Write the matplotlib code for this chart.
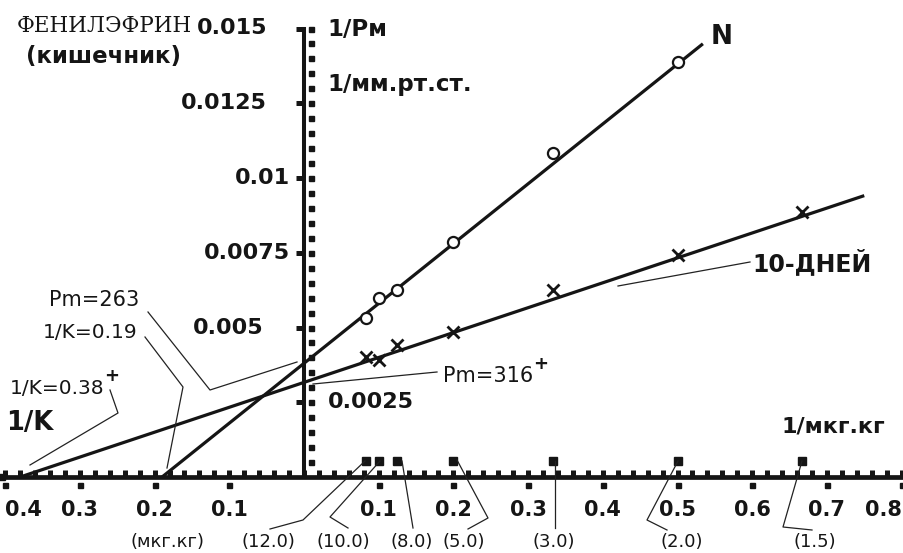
import numpy as np
import matplotlib
matplotlib.use("Agg")
import matplotlib.pyplot as plt
from matplotlib.lines import Line2D
from matplotlib.transforms import offset_copy

# ---------------- data ----------------
doses = [12.0, 10.0, 8.0, 5.0, 3.0, 2.0, 1.5]          # мкг.кг
dose_labels = ["(12.0)", "(10.0)", "(8.0)", "(5.0)", "(3.0)", "(2.0)", "(1.5)"]
n_recip_pm = [0.00532, 0.00599, 0.00625, 0.00786, 0.01084, 0.01388]       # N, first 6 doses
d10_recip_pm = [0.00401, 0.00391, 0.00441, 0.00485, 0.00625, 0.00742, 0.00886]  # 10 days
pm_values = {"N": 263, "10d": 316}
inv_k_values = {"N": 0.19, "10d": 0.38}
line_x_end = {"N": 0.534, "10d": 0.750}
x_ticks = [-0.4, -0.3, -0.2, -0.1, 0.1, 0.2, 0.3, 0.4, 0.5, 0.6, 0.7, 0.8]
x_tick_labels = ["0.4", "0.3", "0.2", "0.1", "0.1", "0.2", "0.3", "0.4", "0.5", "0.6", "0.7", "0.8"]
y_ticks = [0.0025, 0.005, 0.0075, 0.01, 0.0125, 0.015]
y_tick_labels = ["0.0025", "0.005", "0.0075", "0.01", "0.0125", "0.015"]

# ---------------- figure ----------------
W, H = 904, 553
fig = plt.figure(figsize=(W / 100, H / 100), dpi=100)
ax = fig.add_axes([0, 0, 1, 1])
X0PX, Y0PX, XSC, YSC = 304, 477, 747.0, 74.75 / 0.0025
ax.set_xlim(-X0PX / XSC, (W - X0PX) / XSC)
ax.set_ylim(-(H - Y0PX) / YSC, Y0PX / YSC)
ax.set_facecolor("white")
ink = "#151515"

for s in ["top", "right"]:
    ax.spines[s].set_visible(False)
ax.spines["left"].set_position(("data", 0))
ax.spines["bottom"].set_position(("data", 0))
ax.spines["left"].set_bounds(0, 0.015)
ax.spines["bottom"].set_bounds(-0.404, 0.8)
ax.spines["left"].set_linewidth(2.9)
ax.spines["bottom"].set_linewidth(3.4)
ax.spines["left"].set_color(ink)
ax.spines["bottom"].set_color(ink)

# x minor ticks (squares above the axis)
ax.set_xticks(np.round(np.arange(-0.4, 0.8001, 0.02), 3), minor=True)
ax.set_xticks([])
ax.tick_params(axis="x", which="minor", direction="in", length=5, width=3.6, color=ink)
# y major ticks on the left
ax.set_yticks(y_ticks)
ax.set_yticklabels([])
ax.tick_params(axis="y", which="major", direction="out", length=6, width=3.6, color=ink)

# y minor squares right of axis (with a gap)
y_minor = np.round(np.arange(0.0005, 0.01501, 0.0005), 5)
tr_r = offset_copy(ax.transData, fig=fig, x=7, y=0, units="dots")
ax.plot(np.zeros_like(y_minor), y_minor, "s", ms=3.6, color=ink, transform=tr_r, clip_on=False)
# x major squares below axis
tr_d = offset_copy(ax.transData, fig=fig, x=0, y=-8, units="dots")
ax.plot(x_ticks, np.zeros(len(x_ticks)), "s", ms=3.6, color=ink, transform=tr_d, clip_on=False)
# left end cap of the x axis
ax.plot([x_ticks[0] - 0.004], [0], "s", ms=5, color=ink, clip_on=False)
# dose squares above the axis
dose_x = [1.0 / d for d in doses]
tr_u = offset_copy(ax.transData, fig=fig, x=0, y=16, units="dots")
ax.plot(dose_x, np.zeros(len(dose_x)), "s", ms=5.5, color=ink, transform=tr_u, clip_on=False)

# x tick labels
for xv, lab in zip(x_ticks, x_tick_labels):
    ha = "center"
    if xv == x_ticks[0]:
        ha = "left"
    elif xv == x_ticks[-1]:
        ha = "right"
    ax.annotate(lab, xy=(xv, 0), xytext=(0, -33), textcoords="offset pixels",
                ha=ha, va="center", fontsize=15, fontweight="bold", color=ink)

# y tick labels (irregular placement as in the original)
y_lab_dx = {"0.0025": (24, "left"), "0.005": (-41, "right"), "0.0075": (-14, "right"),
            "0.01": (-14, "right"), "0.0125": (-37, "right"), "0.015": (-37, "right")}
for yv, lab in zip(y_ticks, y_tick_labels):
    dx, ha = y_lab_dx[lab]
    ax.annotate(lab, xy=(0, yv), xytext=(dx, 0), textcoords="offset pixels",
                ha=ha, va="center", fontsize=16, fontweight="bold", color=ink)

# regression lines (Lineweaver-Burk type): 1/P = 1/Pm * (1 + x / (1/K))
for key in ["N", "10d"]:
    xs = np.array([-inv_k_values[key], line_x_end[key]])
    ys = (1.0 / pm_values[key]) * (1 + xs / inv_k_values[key])
    ax.plot(xs, ys, "-", color=ink, lw=2.3, solid_capstyle="butt", zorder=3)

# data points
ax.plot(dose_x[:len(n_recip_pm)], n_recip_pm, "o", ms=8, mfc="white", mec=ink, mew=1.6, zorder=4)
ax.plot(dose_x, d10_recip_pm, "x", ms=9, color=ink, mew=2.0, zorder=4)


# ---------------- annotations (figure pixel coordinates) ----------------
def P(x, y):
    return (x / W, 1 - y / H)


def txt(s, x, y, **kw):
    kw.setdefault("color", ink)
    kw.setdefault("va", "center")
    fig.text(*P(x, y), s, **kw)


def leader(points, lw=0.9):
    xs = [p[0] / W for p in points]
    ys = [1 - p[1] / H for p in points]
    fig.add_artist(Line2D(xs, ys, transform=fig.transFigure, color="#222222", lw=lw))


txt("ФЕНИЛЭФРИН", 104, 26, ha="center", fontsize=15.5, family="DejaVu Serif")
txt("(кишечник)", 104, 57, ha="center", fontsize=16.5, fontweight="bold")
txt("1/Pм", 327, 29, ha="left", fontsize=16.5, fontweight="bold")
txt("1/мм.рт.ст.", 327, 85, ha="left", fontsize=16.5, fontweight="bold")
txt("N", 722, 37, ha="center", fontsize=19, fontweight="bold")
txt("10-ДНЕЙ", 752, 263, ha="left", fontsize=17, fontweight="bold")
txt("1/мкг.кг", 782, 427, ha="left", fontsize=16, fontweight="bold")
txt("1/K", 30, 423, ha="center", fontsize=18.5, fontweight="bold")
txt("Pm=263", 94, 300, ha="center", fontsize=15)
txt("1/K=0.19", 90, 332, ha="center", fontsize=14.5)
txt("1/K=0.38", 10, 388, ha="left", fontsize=14.5)
txt("+", 112, 376, ha="center", fontsize=13, fontweight="bold")
txt("Pm=316", 443, 376, ha="left", fontsize=15)
txt("+", 541, 364, ha="center", fontsize=13, fontweight="bold")
txt("(мкг.кг)", 168, 542, ha="center", fontsize=13)

dose_label_px = [268, 343, 412, 464, 554, 682, 815]
for lab, xp in zip(dose_labels, dose_label_px):
    txt(lab, xp, 542, ha="center", fontsize=13)

leader([(270, 529), (303, 520), (365, 461)])
leader([(348, 528), (330, 517), (380, 461)])
leader([(413, 528), (402, 461)])
leader([(468, 529), (488, 518), (457, 460)])
leader([(555, 528), (555, 461)])
leader([(667, 530), (647, 520), (678, 461)])
leader([(812, 530), (783, 527), (802, 461)])
leader([(148, 312), (210, 390), (297, 362)])
leader([(145, 337), (183, 387), (167, 468)])
leader([(110, 390), (118, 413), (30, 465)])
leader([(437, 372), (313, 384)])
leader([(750, 262), (618, 286)])

fig.savefig("out.png", dpi=100, facecolor="white")
